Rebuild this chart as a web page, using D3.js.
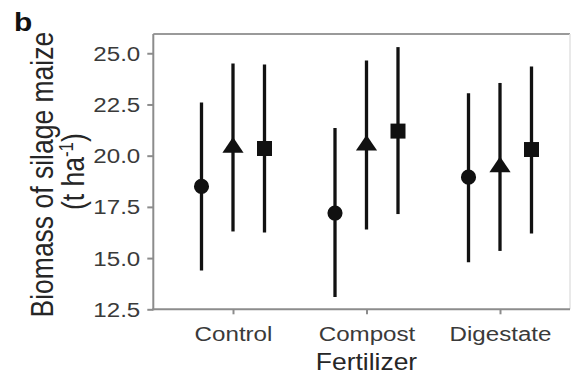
<!DOCTYPE html>
<html>
<head>
<meta charset="utf-8">
<script src="https://cdn.jsdelivr.net/npm/d3@7"></script>
<style>
  html, body { margin: 0; padding: 0; background: #fff; }
  svg { display: block; font-family: "Liberation Sans", Arial, Helvetica, sans-serif; }
</style>
</head>
<body>
<svg id="chart" width="577" height="375"></svg>
<script>
// Fertilizer treatments on the x axis
const categories = ["Control", "Compost", "Digestate"];
// Three series per treatment, distinguished by marker shape
const series = ["circle", "triangle", "square"];
// Mean biomass (t/ha) per treatment, one array per series
const meanCircle   = [18.5, 17.2, 18.95];
const meanTriangle = [20.4, 20.5, 19.45];
const meanSquare   = [20.35, 21.2, 20.3];
// Lower and upper interval bounds
const lowCircle    = [14.4, 13.1, 14.8];
const lowTriangle  = [16.3, 16.4, 15.35];
const lowSquare    = [16.25, 17.15, 16.2];
const highCircle   = [22.6, 21.35, 23.05];
const highTriangle = [24.5, 24.65, 23.55];
const highSquare   = [24.45, 25.3, 24.35];
// Y axis tick labels
const yTicks = [12.5, 15.0, 17.5, 20.0, 22.5, 25.0];

const means = { circle: meanCircle, triangle: meanTriangle, square: meanSquare };
const lows  = { circle: lowCircle,  triangle: lowTriangle,  square: lowSquare };
const highs = { circle: highCircle, triangle: highTriangle, square: highSquare };

const rows = [];
categories.forEach((c, i) => {
  series.forEach(s => rows.push({ cat: c, s, mean: means[s][i], lo: lows[s][i], hi: highs[s][i] }));
});

const svg = d3.select("#chart");
const panel = { left: 153.3, right: 570, top: 34, bottom: 309.3 };
const STRETCH = 1.15;           // text is drawn slightly wide
const axisGrey = "#8c8c8c";
const tickText = "#3a3a3a";
const titleText = "#262626";

const y = d3.scaleLinear().domain([12.5, 25.94]).range([panel.bottom, panel.top]);
const x = d3.scalePoint().domain(categories).range([233, 500]);
const dodge = d3.scalePoint().domain(series).range([-31.5, 31.5]);

// Panel frame
svg.append("line").attr("x1", panel.left).attr("x2", panel.right)
  .attr("y1", panel.top).attr("y2", panel.top)
  .attr("stroke", "#9a9a9a").attr("stroke-width", 2);
svg.append("line").attr("x1", panel.right).attr("x2", panel.right)
  .attr("y1", panel.top).attr("y2", panel.bottom)
  .attr("stroke", "#e2e2e2").attr("stroke-width", 1.5);

// Y axis
const yAxis = d3.axisLeft(y).tickValues(yTicks).tickFormat(d3.format(".1f"))
  .tickSize(6).tickPadding(0);
const gy = svg.append("g").attr("transform", `translate(${panel.left},0)`).call(yAxis);
gy.select(".domain").attr("stroke", axisGrey).attr("stroke-width", 2)
  .attr("d", `M0,${panel.top}V${panel.bottom + 1}`);
gy.selectAll(".tick line").attr("stroke", axisGrey).attr("stroke-width", 2);
gy.selectAll(".tick text").each(function() {
  const t = d3.select(this);
  t.attr("x", null).attr("dy", null)
    .attr("transform", `translate(-13,0) scale(${STRETCH},1)`)
    .attr("text-anchor", "end").attr("dominant-baseline", "central")
    .attr("fill", tickText).style("font-size", "21px")
    .style("font-family", "'Liberation Sans', Arial, sans-serif");
});

// X axis
const xAxis = d3.axisBottom(x).tickSize(5).tickPadding(0);
const gx = svg.append("g").attr("transform", `translate(0,${panel.bottom})`).call(xAxis);
gx.select(".domain").attr("stroke", axisGrey).attr("stroke-width", 2)
  .attr("d", `M${panel.left - 1},0H${panel.right}`);
gx.selectAll(".tick line").attr("stroke", axisGrey).attr("stroke-width", 2);
gx.selectAll(".tick text").each(function() {
  d3.select(this).attr("y", null).attr("dy", null)
    .attr("transform", `translate(0,31.5) scale(${STRETCH},1)`)
    .attr("text-anchor", "middle")
    .attr("fill", tickText).style("font-size", "21px")
    .style("font-family", "'Liberation Sans', Arial, sans-serif");
});

// Axis titles
svg.append("text")
  .attr("transform", `translate(${(x("Compost"))},370) scale(${STRETCH},1)`)
  .attr("text-anchor", "middle").attr("fill", titleText)
  .style("font-size", "23px").text("Fertilizer");

const midY = (panel.top + panel.bottom) / 2;
svg.append("text")
  .attr("transform", `translate(53,${midY + 3}) scale(${STRETCH},1) rotate(-90)`)
  .attr("text-anchor", "middle").attr("fill", titleText)
  .style("font-size", "26.5px").text("Biomass of silage maize");
const unit = svg.append("text")
  .attr("transform", `translate(84,${midY}) scale(${STRETCH},1) rotate(-90)`)
  .attr("text-anchor", "middle").attr("fill", titleText)
  .style("font-size", "26.5px");
unit.append("tspan").text("(t ha");
unit.append("tspan").attr("dy", -10).style("font-size", "17px").text("-1");
unit.append("tspan").attr("dy", 10).text(")");

// Panel tag
svg.append("text")
  .attr("transform", `translate(14,31) scale(${STRETCH},1)`)
  .attr("fill", "#111").style("font-size", "26px").style("font-weight", "bold")
  .text("b");

// Error bars
const marks = svg.append("g");
marks.selectAll("line.err").data(rows).join("line")
  .attr("class", "err")
  .attr("x1", d => x(d.cat) + dodge(d.s)).attr("x2", d => x(d.cat) + dodge(d.s))
  .attr("y1", d => y(d.lo)).attr("y2", d => y(d.hi))
  .attr("stroke", "#111").attr("stroke-width", 3.3);

// Marker shapes: a slightly wide triangle with its centroid at the point
const wideTriangle = {
  draw(ctx, size) {
    const h = Math.sqrt(size) * 0.93, w = h * 1.36;
    ctx.moveTo(0, -2 * h / 3);
    ctx.lineTo(w / 2, h / 3);
    ctx.lineTo(-w / 2, h / 3);
    ctx.closePath();
  }
};
const shapeOf = { circle: d3.symbolCircle, triangle: wideTriangle, square: d3.symbolSquare };
const sizeOf = { circle: 180, triangle: 280, square: 225 };

marks.selectAll("path.pt").data(rows).join("path")
  .attr("class", "pt")
  .attr("transform", d => `translate(${x(d.cat) + dodge(d.s)},${y(d.mean)})`)
  .attr("d", d => d3.symbol().type(shapeOf[d.s]).size(sizeOf[d.s])())
  .attr("fill", "#111");
</script>
</body>
</html>
